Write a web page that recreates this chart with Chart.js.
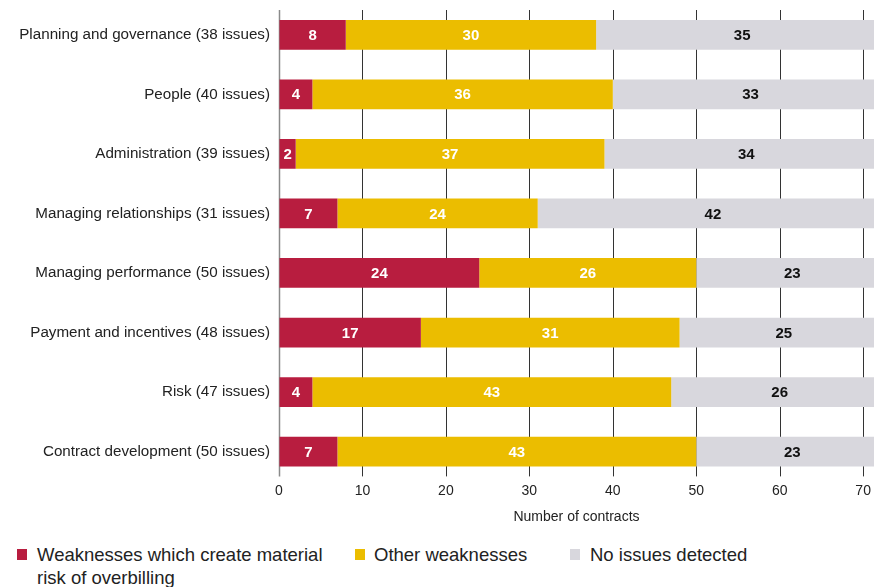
<!DOCTYPE html>
<html>
<head>
<meta charset="utf-8">
<script src="https://cdn.jsdelivr.net/npm/chart.js@4/dist/chart.umd.min.js"></script>
<style>
  html, body { margin: 0; padding: 0; background: #fff; }
  #wrap { position: relative; width: 874px; height: 587px; font-family: "Liberation Sans", Arial, sans-serif; color: #222; }
  #cv { position: absolute; left: 0; top: 0; }
  .lg { position: absolute; font-size: 18.5px; line-height: 23px; color: #222; }
  .sq { position: absolute; width: 10px; height: 11px; }
</style>
</head>
<body>
<div id="wrap">
  <canvas id="cv" width="874" height="530"></canvas>
  <div class="sq" style="left:17px;top:549px;background:#B81D3F"></div>
  <div class="lg" style="left:37px;top:543px;width:300px">Weaknesses which create material<br>risk of overbilling</div>
  <div class="sq" style="left:355px;top:549px;background:#EBBD00"></div>
  <div class="lg" style="left:374px;top:543px">Other weaknesses</div>
  <div class="sq" style="left:570px;top:549px;background:#D8D7DD"></div>
  <div class="lg" style="left:590px;top:543px">No issues detected</div>
</div>
<script>
const categories = [
  "Planning and governance (38 issues)",
  "People (40 issues)",
  "Administration (39 issues)",
  "Managing relationships (31 issues)",
  "Managing performance (50 issues)",
  "Payment and incentives (48 issues)",
  "Risk (47 issues)",
  "Contract development (50 issues)"
];
const seriesNames = ["Weaknesses which create material risk of overbilling", "Other weaknesses", "No issues detected"];
const overbilling = [8, 4, 2, 7, 24, 17, 4, 7];
const otherWeak   = [30, 36, 37, 24, 26, 31, 43, 43];
const noIssues    = [35, 33, 34, 42, 23, 25, 26, 23];
const xTicks = [0, 10, 20, 30, 40, 50, 60, 70];
const xAxisTitle = "Number of contracts";

const FONT = "'Liberation Sans', Arial, sans-serif";

const gridPlugin = {
  id: 'gridLines',
  beforeDatasetsDraw(chart) {
    const { ctx, chartArea } = chart;
    const xs = chart.scales.x;
    ctx.save();
    xs.ticks.forEach(t => {
      const px = Math.round(xs.getPixelForValue(t.value)) + 0.5;
      ctx.beginPath();
      ctx.strokeStyle = t.value === 0 ? '#8a8a8a' : '#333';
      ctx.lineWidth = t.value === 0 ? 1.5 : 1;
      ctx.moveTo(px, chartArea.top + 5);
      ctx.lineTo(px, chartArea.bottom - 5);
      ctx.stroke();
    });
    ctx.restore();
  }
};

const labelPlugin = {
  id: 'valueLabels',
  afterDatasetsDraw(chart) {
    const { ctx } = chart;
    ctx.save();
    ctx.font = "bold 15px " + FONT;
    ctx.textAlign = 'center';
    ctx.textBaseline = 'middle';
    chart.data.datasets.forEach((ds, i) => {
      const meta = chart.getDatasetMeta(i);
      ctx.fillStyle = ds.labelColor;
      meta.data.forEach((el, j) => {
        const p = el.getProps(['x', 'y', 'base'], true);
        ctx.fillText(String(ds.data[j]), (p.x + p.base) / 2, p.y + 1);
      });
    });
    ctx.restore();
  }
};

new Chart(document.getElementById('cv'), {
  type: 'bar',
  data: {
    labels: categories,
    datasets: [
      { label: seriesNames[0], data: overbilling, backgroundColor: '#B81D3F', labelColor: '#fff' },
      { label: seriesNames[1], data: otherWeak, backgroundColor: '#EBBD00', labelColor: '#fff' },
      { label: seriesNames[2], data: noIssues, backgroundColor: '#D8D7DD', labelColor: '#111' }
    ]
  },
  plugins: [gridPlugin, labelPlugin],
  options: {
    indexAxis: 'y',
    responsive: false,
    animation: false,
    devicePixelRatio: 1,
    layout: { padding: { top: 5, left: 0, right: 0, bottom: 0 } },
    datasets: { bar: { barPercentage: 0.5, categoryPercentage: 1, borderWidth: 0 } },
    plugins: { legend: { display: false }, tooltip: { enabled: false } },
    scales: {
      x: {
        stacked: true,
        min: 0,
        max: 71.3,
        ticks: { stepSize: 10, padding: 1, color: '#222', font: { family: FONT, size: 14 } },
        afterBuildTicks(s) { s.ticks = xTicks.map(v => ({ value: v })); },
        grid: { display: true, drawOnChartArea: false, drawTicks: false },
        border: { display: false },
        title: { display: true, text: xAxisTitle, color: '#222', font: { family: FONT, size: 14 }, padding: { top: 9, bottom: 4 } }
      },
      y: {
        stacked: true,
        ticks: { color: '#222', padding: 9, font: { family: FONT, size: 15.2 } },
        afterFit(s) { s.width = 279; s.paddingTop = 0; s.paddingBottom = 0; },
        grid: { display: false, drawTicks: false },
        border: { display: false }
      }
    }
  }
});
</script>
</body>
</html>
